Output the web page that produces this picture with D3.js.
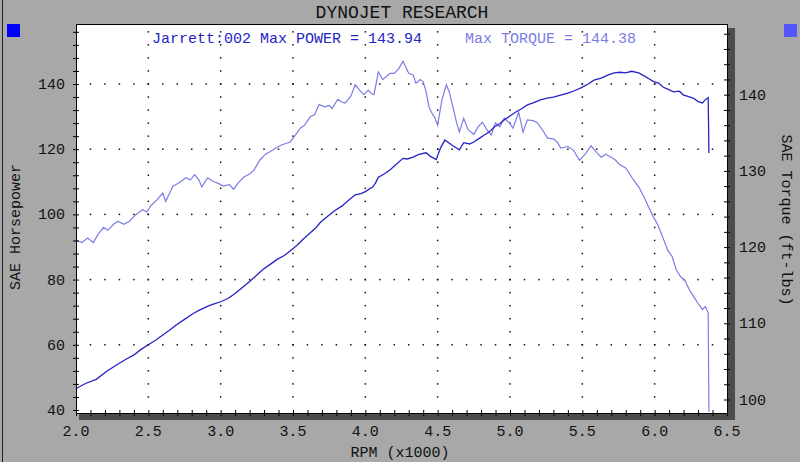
<!DOCTYPE html>
<html>
<head>
<meta charset="utf-8">
<script src="https://cdn.jsdelivr.net/npm/d3@7"></script>
<style>
  body { margin: 0; background: #a8a8a8; }
  svg { display: block; }
  text { font-family: "Liberation Mono", "Courier New", monospace; }
</style>
</head>
<body>
<div id="chart"></div>
<script>
// power run (rpm x1000, SAE hp)
var powerRpm = [2.00, 2.07, 2.14, 2.21, 2.28, 2.34, 2.40, 2.45, 2.50, 2.55, 2.60, 2.65, 2.69, 2.75, 2.81, 2.86,
  2.92, 2.96, 3.00, 3.05, 3.09, 3.14, 3.20, 3.25, 3.29, 3.34, 3.39, 3.44, 3.48, 3.53, 3.57, 3.62, 3.66, 3.69,
  3.74, 3.79, 3.84, 3.88, 3.93, 3.97, 4.00, 4.05, 4.07, 4.09, 4.13, 4.17, 4.21, 4.26, 4.29, 4.33, 4.37, 4.42,
  4.45, 4.49, 4.52, 4.55, 4.60, 4.65, 4.68, 4.72, 4.75, 4.79, 4.83, 4.86, 4.89, 4.93, 4.96, 5.00, 5.04, 5.08,
  5.12, 5.16, 5.21, 5.25, 5.30, 5.35, 5.40, 5.45, 5.49, 5.54, 5.58, 5.63, 5.68, 5.72, 5.76, 5.80, 5.84, 5.89,
  5.93, 5.96, 5.99, 6.03, 6.06, 6.09, 6.13, 6.17, 6.20, 6.23, 6.27, 6.30, 6.33, 6.35, 6.37, 6.375];
var powerHp = [46.6, 48.2, 49.4, 51.8, 53.8, 55.4, 56.9, 58.6, 60.0, 61.4, 63.0, 64.6, 66.0, 67.8, 69.6, 70.8,
  72.0, 72.6, 73.2, 74.2, 75.4, 77.2, 79.4, 81.4, 83.0, 84.6, 86.2, 87.4, 88.8, 90.6, 92.4, 94.4, 96.0, 97.6,
  99.4, 101.2, 102.6, 104.2, 106.0, 106.4, 107.0, 108.4, 109.6, 111.4, 112.4, 113.6, 115.2, 117.2, 117.0, 117.6, 118.4, 118.9,
  117.8, 116.8, 120.4, 122.8, 121.2, 119.8, 122.0, 121.6, 122.2, 123.4, 124.6, 125.4, 126.8, 127.8, 129.0, 130.2, 131.4, 132.4,
  133.6, 134.2, 135.1, 135.6, 136.0, 136.6, 137.2, 138.0, 138.8, 140.0, 141.2, 141.8, 142.8, 143.4, 143.6, 143.4, 143.9, 143.4,
  142.4, 141.6, 140.8, 140.2, 139.0, 138.4, 137.6, 137.8, 136.6, 136.2, 135.6, 134.6, 134.2, 135.2, 135.8, 118.8];

// torque run (rpm x1000, ft-lbs)
var torqueRpm = [2.00, 2.04, 2.08, 2.12, 2.15, 2.19, 2.22, 2.26, 2.29, 2.33, 2.37, 2.41, 2.46, 2.49, 2.52, 2.56,
  2.60, 2.62, 2.65, 2.67, 2.71, 2.76, 2.79, 2.82, 2.85, 2.87, 2.91, 2.95, 2.99, 3.02, 3.06, 3.09, 3.12, 3.16,
  3.20, 3.23, 3.27, 3.31, 3.35, 3.38, 3.42, 3.45, 3.48, 3.52, 3.55, 3.58, 3.62, 3.65, 3.68, 3.72, 3.75, 3.77,
  3.81, 3.84, 3.86, 3.90, 3.93, 3.96, 3.99, 4.02, 4.04, 4.06, 4.09, 4.12, 4.14, 4.17, 4.20, 4.23, 4.26, 4.28,
  4.30, 4.33, 4.35, 4.38, 4.40, 4.42, 4.44, 4.46, 4.48, 4.50, 4.53, 4.56, 4.58, 4.61, 4.63, 4.65, 4.68, 4.71,
  4.75, 4.78, 4.81, 4.84, 4.87, 4.90, 4.93, 4.96, 5.00, 5.02, 5.06, 5.09, 5.12, 5.16, 5.19, 5.23, 5.26, 5.30,
  5.33, 5.35, 5.40, 5.44, 5.48, 5.52, 5.56, 5.60, 5.63, 5.66, 5.70, 5.73, 5.76, 5.80, 5.84, 5.87, 5.89, 5.92,
  5.95, 5.99, 6.02, 6.05, 6.09, 6.12, 6.15, 6.18, 6.21, 6.24, 6.27, 6.30, 6.33, 6.35, 6.37, 6.375];
var torqueLbft = [120.9, 120.6, 121.2, 120.6, 121.6, 122.6, 122.2, 123.0, 123.4, 123.0, 123.4, 124.2, 124.9, 124.6, 125.5, 126.2,
  127.1, 126.0, 127.2, 128.0, 128.4, 129.1, 128.8, 129.5, 128.8, 127.9, 129.1, 128.6, 128.3, 128.0, 128.2, 127.6, 128.4, 129.2,
  129.6, 130.1, 131.4, 132.2, 132.6, 133.0, 133.4, 133.6, 133.8, 134.8, 135.6, 136.0, 137.1, 137.4, 138.7, 138.4, 138.6, 138.2,
  139.4, 139.0, 138.9, 139.8, 141.3, 140.6, 140.0, 140.6, 140.2, 140.0, 143.0, 142.0, 142.3, 142.8, 142.8, 143.4, 144.38, 143.6,
  142.8, 142.6, 141.5, 142.0, 141.7, 140.4, 138.4, 137.6, 137.0, 136.0, 139.4, 141.3, 140.4, 138.0, 136.4, 135.1, 136.9, 135.4,
  134.8, 135.8, 136.4, 135.4, 134.7, 136.3, 135.8, 136.9, 136.2, 135.6, 137.7, 135.1, 136.7, 136.6, 136.3, 135.2, 134.3, 134.2,
  133.7, 133.0, 133.2, 132.7, 131.4, 132.2, 133.3, 132.4, 131.8, 132.2, 131.8, 131.4, 130.8, 130.4, 129.2, 128.4, 127.9, 126.8,
  125.6, 124.0, 123.0, 121.6, 119.6, 118.8, 117.0, 116.1, 115.6, 114.4, 113.5, 112.6, 111.8, 112.2, 111.4, 98.4];

var xTicks = [2.0, 2.5, 3.0, 3.5, 4.0, 4.5, 5.0, 5.5, 6.0, 6.5];
var hpTicks = [40, 60, 80, 100, 120, 140];
var tqTicks = [100, 110, 120, 130, 140];

var title = "DYNOJET RESEARCH";
var powerLabel = "Jarrett:002 Max POWER = 143.94";
var torqueLabel = "Max TORQUE = 144.38";

var width = 800;
var height = 462;
var plot = { left: 76, right: 727, top: 24, bottom: 413 };

var powerColor = "#2424c4";
var torqueColor = "#7c7ce6";

var svg = d3.select("#chart").append("svg")
  .attr("width", width)
  .attr("height", height);

svg.append("rect")
  .attr("width", width)
  .attr("height", height)
  .attr("fill", "#a8a8a8");

// outer frame line on the left
svg.append("line")
  .attr("x1", 2.5).attr("x2", 2.5)
  .attr("y1", 0).attr("y2", height)
  .attr("stroke", "#222");

var xScale = d3.scaleLinear([2, 6.5], [plot.left, plot.right]);
var yLeft = d3.scaleLinear([40, 140], [410, 84]);
var yRight = d3.scaleLinear([100, 140], [399.5, 94.7]);

// drop shadow
svg.append("rect")
  .attr("x", plot.right + 1).attr("y", plot.top + 4)
  .attr("width", 7).attr("height", plot.bottom - plot.top + 3)
  .attr("fill", "#4c4c4c");
svg.append("rect")
  .attr("x", plot.left + 3).attr("y", plot.bottom)
  .attr("width", plot.right - plot.left + 5).attr("height", 7)
  .attr("fill", "#4c4c4c");

svg.append("rect")
  .attr("x", plot.left).attr("y", plot.top)
  .attr("width", plot.right - plot.left).attr("height", plot.bottom - plot.top)
  .attr("fill", "#fff");

// dotted grid: dots at minor positions along major lines
var xMinor = d3.range(21, 65).map(function (d) { return d / 10; });
var hpMinor = d3.range(40, 158, 4);
var tqMinor = d3.range(98, 158, 2).filter(function (d) { return yRight(d) > plot.top + 2 && yRight(d) < plot.bottom; });

var grid = svg.append("g").attr("fill", "#111");
xTicks.slice(1, -1).forEach(function (xv) {
  grid.selectAll(null)
    .data(hpMinor.filter(function (d) { return d > 40; }))
    .join("rect")
    .attr("x", xScale(xv) - 0.75)
    .attr("y", function (d) { return yLeft(d) - 0.75; })
    .attr("width", 1.5).attr("height", 1.5);
});
hpTicks.slice(1).forEach(function (hv) {
  grid.selectAll(null)
    .data(xMinor)
    .join("rect")
    .attr("x", function (d) { return xScale(d) - 0.75; })
    .attr("y", yLeft(hv) - 0.75)
    .attr("width", 1.5).attr("height", 1.5);
});

// curves
var powerData = powerRpm.map(function (r, i) { return [r, powerHp[i]]; });
var torqueData = torqueRpm.map(function (r, i) { return [r, torqueLbft[i]]; });

svg.append("path")
  .datum(torqueData)
  .attr("fill", "none")
  .attr("stroke", torqueColor)
  .attr("stroke-width", 1.2)
  .attr("d", d3.line()
    .x(function (d) { return xScale(d[0]); })
    .y(function (d) { return yRight(d[1]); }));

svg.append("path")
  .datum(powerData)
  .attr("fill", "none")
  .attr("stroke", powerColor)
  .attr("stroke-width", 1.3)
  .attr("d", d3.line()
    .x(function (d) { return xScale(d[0]); })
    .y(function (d) { return yLeft(d[1]); }));

// frame
svg.append("line")
  .attr("x1", plot.left).attr("x2", plot.right + 1)
  .attr("y1", plot.top + 0.5).attr("y2", plot.top + 0.5)
  .attr("stroke", "#000");

var xAxis = d3.axisBottom(xScale)
  .tickValues(d3.range(20, 66).map(function (d) { return d / 10; }))
  .tickSize(3)
  .tickFormat("");
var gx = svg.append("g")
  .attr("transform", "translate(0," + plot.bottom + ")")
  .call(xAxis);
gx.selectAll(".tick line").attr("y1", -3).attr("stroke", "#000");
gx.select(".domain").attr("stroke", "#000");

var yAxisL = d3.axisLeft(yLeft)
  .tickValues(hpMinor)
  .tickSize(3)
  .tickFormat("");
var gyl = svg.append("g")
  .attr("transform", "translate(" + plot.left + ",0)")
  .call(yAxisL);
gyl.selectAll(".tick line").attr("x1", 3).attr("stroke", "#000");
gyl.select(".domain").attr("d", "M0.5," + plot.top + "V" + (plot.bottom + 3)).attr("stroke", "#000");

var yAxisR = d3.axisRight(yRight)
  .tickValues(tqMinor)
  .tickSize(3)
  .tickFormat("");
var gyr = svg.append("g")
  .attr("transform", "translate(" + plot.right + ",0)")
  .call(yAxisR);
gyr.selectAll(".tick line").attr("x1", -3).attr("stroke", "#000");
gyr.select(".domain").attr("d", "M0.5," + plot.top + "V" + plot.bottom).attr("stroke", "#000");

// tick labels
svg.append("g")
  .selectAll("text")
  .data(xTicks)
  .join("text")
  .attr("x", function (d) { return xScale(d); })
  .attr("y", 436)
  .attr("text-anchor", "middle")
  .attr("font-size", 15)
  .attr("fill", "#111")
  .text(function (d) { return d.toFixed(1); });

svg.append("g")
  .selectAll("text")
  .data(hpTicks)
  .join("text")
  .attr("x", 65)
  .attr("y", function (d) { return yLeft(d) + 5; })
  .attr("text-anchor", "end")
  .attr("font-size", 15)
  .attr("fill", "#111")
  .text(function (d) { return d; });

svg.append("g")
  .selectAll("text")
  .data(tqTicks)
  .join("text")
  .attr("x", 739)
  .attr("y", function (d) { return yRight(d) + 5; })
  .attr("text-anchor", "start")
  .attr("font-size", 15)
  .attr("fill", "#111")
  .text(function (d) { return d; });

// titles
svg.append("text")
  .attr("x", 402)
  .attr("y", 18)
  .attr("text-anchor", "middle")
  .attr("font-size", 18)
  .attr("fill", "#111")
  .text(title);

svg.append("text")
  .attr("x", 400)
  .attr("y", 457)
  .attr("text-anchor", "middle")
  .attr("font-size", 15)
  .attr("fill", "#111")
  .text("RPM (x1000)");

svg.append("text")
  .attr("transform", "translate(20,227) rotate(-90)")
  .attr("text-anchor", "middle")
  .attr("font-size", 15)
  .attr("fill", "#111")
  .text("SAE Horsepower");

svg.append("text")
  .attr("transform", "translate(782,220) rotate(90)")
  .attr("text-anchor", "middle")
  .attr("font-size", 15)
  .attr("fill", "#111")
  .text("SAE Torque (ft-lbs)");

// legend
svg.append("text")
  .attr("x", 152)
  .attr("y", 43)
  .attr("font-size", 15)
  .attr("fill", powerColor)
  .text(powerLabel);

svg.append("text")
  .attr("x", 465)
  .attr("y", 43)
  .attr("font-size", 15)
  .attr("fill", torqueColor)
  .text(torqueLabel);

svg.append("rect")
  .attr("x", 7).attr("y", 24)
  .attr("width", 13).attr("height", 13)
  .attr("fill", "#0000ff");

svg.append("rect")
  .attr("x", 784).attr("y", 24)
  .attr("width", 13).attr("height", 13)
  .attr("fill", "#5555ff");
</script>
</body>
</html>
